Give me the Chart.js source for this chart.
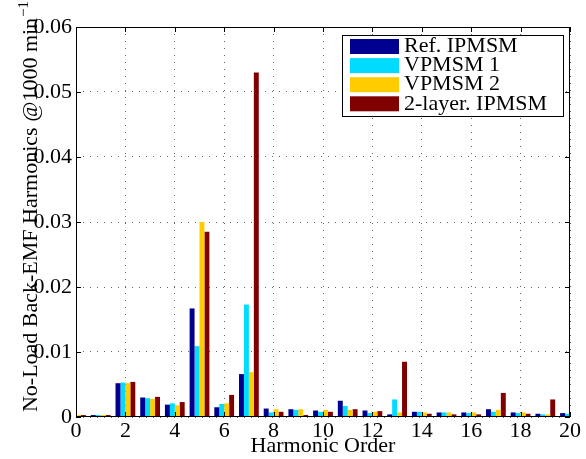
<!DOCTYPE html>
<html>
<head>
<meta charset="utf-8">
<script src="https://cdn.jsdelivr.net/npm/chart.js@4.4.0/dist/chart.umd.min.js"></script>
<style>
  html, body { margin: 0; padding: 0; background: #fff; }
</style>
</head>
<body>
<canvas id="chart" width="586" height="459"></canvas>
<script>
// harmonic orders and amplitudes
const harmonicOrder = [0, 1, 2, 3, 4, 5, 6, 7, 8, 9, 10, 11, 12, 13, 14, 15, 16, 17, 18, 19, 20];
const refIpmsm = [0.0002, 0.0003, 0.0052, 0.0030, 0.0019, 0.0167, 0.0015, 0.0066, 0.0013, 0.0012, 0.0010, 0.0025, 0.0010, 0.0004, 0.0008, 0.0007, 0.0007, 0.0012, 0.0007, 0.0005, 0.0006];
const vpmsm1 = [0.0002, 0.0003, 0.0053, 0.0029, 0.0021, 0.0109, 0.0020, 0.0173, 0.0007, 0.0011, 0.0008, 0.0017, 0.0006, 0.0027, 0.0008, 0.0007, 0.0006, 0.0008, 0.0006, 0.0004, 0.0005];
const vpmsm2 = [0.0003, 0.0003, 0.0052, 0.0028, 0.0018, 0.0300, 0.0021, 0.0069, 0.0012, 0.0012, 0.0011, 0.0011, 0.0008, 0.0007, 0.0007, 0.0007, 0.0007, 0.0011, 0.0007, 0.0004, 0.0005];
const twoLayerIpmsm = [0.0003, 0.0003, 0.0054, 0.0031, 0.0023, 0.0285, 0.0034, 0.0530, 0.0008, 0.0003, 0.0008, 0.0012, 0.0009, 0.0085, 0.0005, 0.0004, 0.0004, 0.0037, 0.0005, 0.0027, 0.0004];
const seriesLabels = ['Ref. IPMSM', 'VPMSM 1', 'VPMSM 2', '2-layer. IPMSM'];
const seriesColors = ['#000090', '#00DCFF', '#FFCC00', '#800000'];
const xTicks = [0, 2, 4, 6, 8, 10, 12, 14, 16, 18, 20];
const yTicks = [0, 0.01, 0.02, 0.03, 0.04, 0.05, 0.06];

const serif = '"Liberation Serif", "DejaVu Serif", serif';

function toPoints(values) {
  return values.map((v, i) => ({ x: harmonicOrder[i], y: v }));
}

// box around the plot with inward tick marks, like matlab
const boxPlugin = {
  id: 'box',
  afterDatasetsDraw(chart) {
    const { ctx, chartArea: a, scales } = chart;
    ctx.save();
    ctx.strokeStyle = '#000';
    ctx.lineWidth = 1;
    ctx.strokeRect(a.left + 0.5, a.top + 0.5, a.right - a.left - 1, a.bottom - a.top - 1);
    ctx.beginPath();
    xTicks.forEach(t => {
      const x = Math.round(scales.x.getPixelForValue(t)) + 0.5;
      ctx.moveTo(x, a.bottom); ctx.lineTo(x, a.bottom - 5);
      ctx.moveTo(x, a.top); ctx.lineTo(x, a.top + 5);
    });
    yTicks.forEach(t => {
      const y = Math.round(scales.y.getPixelForValue(t)) + 0.5;
      ctx.moveTo(a.left, y); ctx.lineTo(a.left + 5, y);
      ctx.moveTo(a.right, y); ctx.lineTo(a.right - 5, y);
    });
    ctx.stroke();
    ctx.restore();
  }
};

// legend in a framed box, top right of the axes
const legendPlugin = {
  id: 'boxLegend',
  afterDraw(chart) {
    const ctx = chart.ctx;
    const left = 342, top = 35, width = 221, height = 81;
    ctx.save();
    ctx.fillStyle = '#fff';
    ctx.fillRect(left, top, width, height);
    ctx.strokeStyle = '#000';
    ctx.lineWidth = 1;
    ctx.strokeRect(left + 0.5, top + 0.5, width, height);
    ctx.font = '22px ' + serif;
    ctx.textBaseline = 'middle';
    chart.data.datasets.forEach((ds, i) => {
      const y = top + 4 + i * 19.1;
      ctx.fillStyle = ds.backgroundColor;
      ctx.fillRect(left + 8, y, 49, 15);
      ctx.fillStyle = '#000';
      ctx.fillText(ds.label, left + 62, y + 7.5);
    });
    ctx.restore();
  }
};

// rotated y title with a superscript
const yTitlePlugin = {
  id: 'yTitle',
  afterDraw(chart) {
    const ctx = chart.ctx;
    const main = 'No-Load Back-EMF Harmonics @1000 min';
    const sup = '\u22121';
    ctx.save();
    ctx.fillStyle = '#000';
    ctx.font = '22px ' + serif;
    const w1 = ctx.measureText(main).width;
    ctx.font = '15px ' + serif;
    const w2 = ctx.measureText(sup).width;
    ctx.translate(28, 207);
    ctx.rotate(-Math.PI / 2);
    const start = -(w1 + w2) / 2;
    ctx.textBaseline = 'alphabetic';
    ctx.font = '22px ' + serif;
    ctx.fillText(main, start, 9);
    ctx.font = '15px ' + serif;
    ctx.fillText(sup, start + w1 + 1, 0);
    ctx.restore();
  }
};

const ctx = document.getElementById('chart').getContext('2d');
new Chart(ctx, {
  type: 'bar',
  data: {
    datasets: [refIpmsm, vpmsm1, vpmsm2, twoLayerIpmsm].map((vals, i) => ({
      label: seriesLabels[i],
      data: toPoints(vals),
      backgroundColor: seriesColors[i],
      borderWidth: 0,
      barPercentage: 1,
      categoryPercentage: 0.8
    }))
  },
  options: {
    responsive: false,
    animation: false,
    events: [],
    layout: { padding: { left: 0, right: 16, top: 27, bottom: 0 } },
    plugins: {
      legend: { display: false },
      tooltip: { enabled: false }
    },
    scales: {
      x: {
        type: 'linear',
        offset: false,
        min: 0,
        max: 20,
        afterBuildTicks: scale => { scale.ticks = xTicks.map(v => ({ value: v })); },
        afterFit: scale => { scale.height = 42; },
        ticks: { font: { family: serif, size: 22 }, color: '#000', padding: 1, maxRotation: 0 },
        grid: { color: '#666', lineWidth: 1, drawTicks: false, offset: false },
        border: { display: false, dash: [1, 6] },
        title: {
          display: true,
          text: 'Harmonic Order',
          font: { family: serif, size: 22 },
          color: '#000',
          padding: { top: 0, bottom: 0 }
        }
      },
      y: {
        type: 'linear',
        min: 0,
        max: 0.06,
        afterBuildTicks: scale => { scale.ticks = yTicks.map(v => ({ value: v })); },
        afterFit: scale => { scale.width = 76; },
        ticks: {
          font: { family: serif, size: 22 },
          color: '#000',
          padding: 4,
          callback: v => (v === 0 ? '0' : v.toFixed(2))
        },
        grid: { color: '#666', lineWidth: 1, drawTicks: false },
        border: { display: false, dash: [1, 6] }
      }
    }
  },
  plugins: [boxPlugin, legendPlugin, yTitlePlugin]
});
</script>
</body>
</html>
